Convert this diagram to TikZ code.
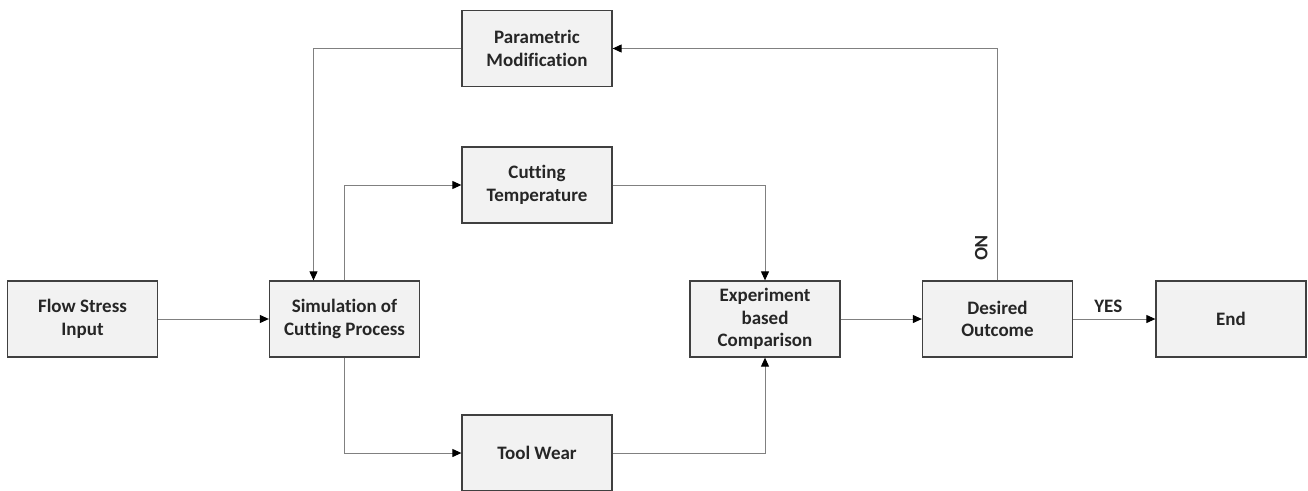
\documentclass[tikz,border=0pt]{standalone}
\usepackage{fontspec}
\setmainfont{Carlito}[Ligatures=NoCommon]
\usetikzlibrary{positioning,arrows.meta}
\definecolor{boxfill}{HTML}{F2F2F2}
\definecolor{boxline}{HTML}{404040}
\definecolor{linegray}{HTML}{808080}
\definecolor{txt}{HTML}{262626}
\tikzset{
  blocco/.style  = {rectangle, draw=boxline, line width=1.3pt, fill=boxfill, minimum width=150pt, minimum height=76pt, align=center, text=txt, font=\bfseries\fontsize{19}{22.5}\selectfont},
  link/.style    = {draw=linegray, line width=1pt, -{Triangle[length=9pt,width=8pt,color=black]}},
  et/.style      = {text=txt, font=\bfseries\fontsize{19}{22}\selectfont}
}
\begin{document}
\begin{tikzpicture}[x=1pt,y=-1pt]
  \useasboundingbox (0,0) rectangle (1308,490);

  % ---- riga centrale ----
  \node[blocco] (flow) at (82.5,319)  {Flow Stress\\Input};
  \node[blocco] (sim)  at (344.5,319) {Simulation of\\Cutting Process};
  \node[blocco] (exp)  at (765,319)   {Experiment\\based\\Comparison};
  \node[blocco] (des)  at (997.5,319) {Desired\\Outcome};
  \node[blocco] (fine) at (1231,319)  {End};

  % ---- colonna centrale ----
  \node[blocco] (param) at (537,48.5) {Parametric\\Modification};
  \node[blocco] (temp)  at (537,185)  {Cutting\\Temperature};
  \node[blocco] (wear)  at (537,453)  {Tool Wear};

  % ---- collegamenti ----
  \draw[link] (flow.east) -- (sim.west);
  \draw[link] (sim.north) |- (temp.west);
  \draw[link] (sim.south) |- (wear.west);
  \draw[link] (temp.east) -| (exp.north);
  \draw[link] (wear.east) -| (exp.south);
  \draw[link] (exp.east) -- (des.west);
  \draw[link] (des.east) -- node[et,above,xshift=-6pt,yshift=3pt] {YES} (fine.west);
  \draw[link] (des.north) |- node[et,pos=0.07,rotate=-90,below,yshift=-6pt] {NO} (param.east);
  \draw[link] (param.west) -| ([xshift=-31pt]sim.north);

\end{tikzpicture}
\end{document}
